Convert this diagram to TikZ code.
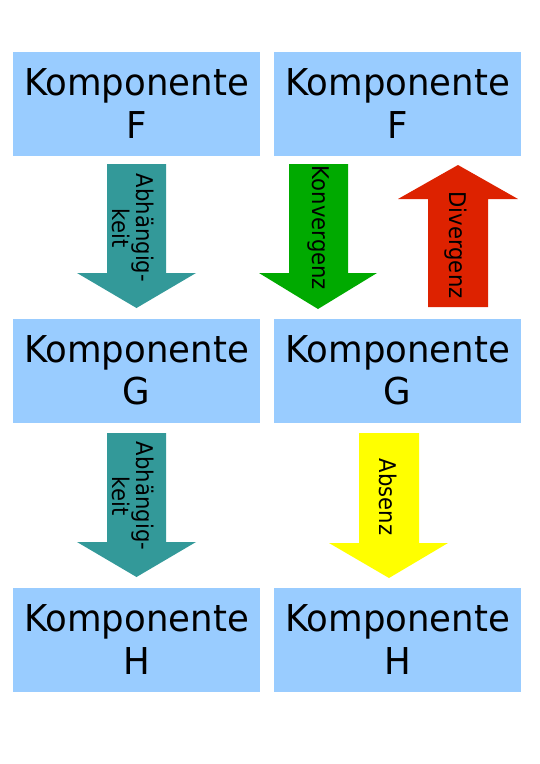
\documentclass[tikz,border=0pt]{standalone}
\usepackage{fontspec}
\setmainfont{DejaVu Sans}
\newfontfamily\kompfont[FakeStretch=0.96]{DejaVu Sans}
\newfontfamily\labelfont[FakeStretch=0.92]{DejaVu Sans}
\definecolor{boxblue}{HTML}{99CCFF}
\definecolor{depteal}{HTML}{339999}
\definecolor{convgreen}{HTML}{00AA00}
\definecolor{divred}{HTML}{DD2200}
\definecolor{absyellow}{HTML}{FFFF00}
\tikzset{
  komp/.style={fill=boxblue, minimum width=247pt, minimum height=104pt, inner sep=0pt,
    align=center, font=\kompfont\fontsize{37}{42.5}\selectfont},
  arrowlabel/.style={rotate=-90, inner sep=0pt, align=center, font=\labelfont\fontsize{23}{22}\selectfont}
}
\begin{document}
\begin{tikzpicture}[x=1pt,y=-1pt]
\useasboundingbox (0,0) rectangle (540,764);

\node[komp] (kompF1) at (136.5,103.5) {Komponente\\F};
\node[komp] (kompF2) at (397.5,103.5) {Komponente\\F};
\node[komp] (kompG1) at (136.5,370.5) {Komponente\\G};
\node[komp] (kompG2) at (397.5,370.5) {Komponente\\G};
\node[komp] (kompH1) at (136.5,639.5) {Komponente\\H};
\node[komp] (kompH2) at (397.5,639.5) {Komponente\\H};

% F -> G
\fill[depteal] (107,164) -- (166,164) -- (166,273) -- (196,273) -- (136.5,308)
  -- (77,273) -- (107,273) -- cycle;
\node[arrowlabel] (dep1) at (133,228) {Abhängig-\\keit};

\fill[convgreen] (289,164) -- (348,164) -- (348,273) -- (377,273) -- (318,309)
  -- (259,273) -- (289,273) -- cycle;
\node[arrowlabel] (conv) at (318,228) {Konvergenz};

\fill[divred] (428,307) -- (488,307) -- (488,199) -- (518,199) -- (458,165)
  -- (398,199) -- (428,199) -- cycle;
\node[arrowlabel] (div) at (456,245) {Divergenz};

% G -> H
\fill[depteal] (107,433) -- (166,433) -- (166,542) -- (196,542) -- (136.5,577)
  -- (77,542) -- (107,542) -- cycle;
\node[arrowlabel] (dep2) at (133,496) {Abhängig-\\keit};

\fill[absyellow] (359,433) -- (419,433) -- (419,543) -- (448,543) -- (389,578)
  -- (329,543) -- (359,543) -- cycle;
\node[arrowlabel] (abs) at (388,497) {Absenz};
\end{tikzpicture}
\end{document}
